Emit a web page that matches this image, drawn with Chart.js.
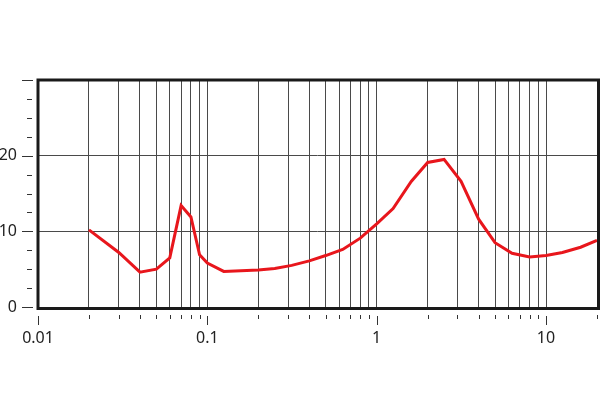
<!DOCTYPE html>
<html>
<head>
<meta charset="utf-8">
<script src="https://cdn.jsdelivr.net/npm/chart.js@4/dist/chart.umd.min.js"></script>
<style>
  html, body { margin: 0; padding: 0; background: #fff; }
  #wrap { width: 600px; height: 420px; }
</style>
</head>
<body>
<div id="wrap"><canvas id="respChart" width="600" height="420"></canvas></div>
<script>
// frecuencias (eje log) y valores
const freqs = [0.02, 0.03, 0.04, 0.05, 0.06, 0.07, 0.08, 0.09, 0.1, 0.125,
  0.2, 0.25, 0.315, 0.4, 0.5, 0.63, 0.8, 1, 1.25, 1.6, 2, 2.5, 3.15, 4, 5,
  6.3, 8, 10, 12.5, 16, 20];
const values = [10.2, 7.2, 4.6, 5.0, 6.5, 13.4, 11.9, 6.9, 5.8, 4.7,
  4.9, 5.1, 5.5, 6.1, 6.8, 7.6, 9.1, 11.0, 13.0, 16.6, 19.1, 19.5, 16.6, 11.6, 8.5,
  7.1, 6.6, 6.8, 7.2, 7.9, 8.8];
const xLabels = ['0.01', '0.1', '1', '10'];
const yLabels = [0, 10, 20];
const yGridAt = [10, 20];

const isDecade = v => Math.abs(Math.log10(v) - Math.round(Math.log10(v))) < 1e-6;
// solo 1..9 x 10^n (sin 1.5, etc.)
const isWhole = v => {
  const m = v / Math.pow(10, Math.floor(Math.log10(v) + 1e-9));
  return Math.abs(m - Math.round(m)) < 1e-6;
};
const FONT = { family: '"Noto Sans", sans-serif', size: 16 };

// marcas de los ejes separadas del borde + marco grueso
const frame = {
  id: 'frame',
  afterDraw(chart) {
    const { ctx, chartArea: a, scales } = chart;
    ctx.save();
    ctx.strokeStyle = '#333';
    ctx.lineWidth = 1;
    scales.x.ticks.forEach(t => {
      const x = Math.round(scales.x.getPixelForValue(t.value)) + 0.5;
      const major = isDecade(t.value);
      ctx.beginPath();
      ctx.moveTo(x, a.bottom + (major ? 9 : 8));
      ctx.lineTo(x, a.bottom + (major ? 18 : 12));
      ctx.stroke();
    });
    scales.y.ticks.forEach(t => {
      const y = Math.round(scales.y.getPixelForValue(t.value)) + 0.5;
      const major = t.value % 10 === 0;
      ctx.beginPath();
      ctx.moveTo(major ? 22 : 27, y);
      ctx.lineTo(major ? 33 : 32, y);
      ctx.stroke();
    });
    ctx.strokeStyle = '#1a1a1a';
    ctx.lineWidth = 3;
    ctx.strokeRect(a.left, a.top, a.right - a.left + 1.5, a.bottom - a.top + 1.5);
    ctx.restore();
  }
};

const ctx = document.getElementById('respChart').getContext('2d');
new Chart(ctx, {
  type: 'line',
  data: {
    datasets: [{
      data: freqs.map((f, i) => ({ x: f, y: values[i] })),
      borderColor: '#e8161c',
      borderWidth: 3,
      pointRadius: 0,
      tension: 0,
      fill: false
    }]
  },
  options: {
    responsive: false,
    animation: false,
    layout: { padding: { top: 80, right: 3, left: 0, bottom: 0 } },
    plugins: { legend: { display: false }, tooltip: { enabled: false } },
    scales: {
      x: {
        type: 'logarithmic',
        min: 0.01,
        max: 20,
        border: { display: false },
        afterBuildTicks: s => { s.ticks = s.ticks.filter(t => isWhole(t.value)); },
        grid: {
          drawTicks: false,
          color: c => (c.tick && c.tick.value > 0.0101 && c.tick.value < 19.9) ? '#4a4a4a' : 'rgba(0,0,0,0)',
          lineWidth: 1
        },
        ticks: {
          autoSkip: false,
          maxRotation: 0,
          padding: 22,
          color: '#222',
          font: FONT,
          callback: v => isDecade(v) ? xLabels[Math.round(Math.log10(v)) + 2] : ''
        },
        afterFit: s => { s.height = 113; s.paddingLeft = 0; s.paddingRight = 0; }
      },
      y: {
        min: 0,
        max: 30,
        border: { display: false },
        grid: {
          drawTicks: false,
          color: c => (c.tick && yGridAt.includes(c.tick.value)) ? '#4a4a4a' : 'rgba(0,0,0,0)',
          lineWidth: 1
        },
        ticks: {
          stepSize: 2.5,
          autoSkip: false,
          padding: 21,
          color: '#222',
          font: FONT,
          callback: v => yLabels.includes(v) ? String(v) : ''
        },
        afterFit: s => { s.width = 38; s.paddingTop = 0; s.paddingBottom = 0; }
      }
    }
  },
  plugins: [frame]
});
</script>
</body>
</html>
